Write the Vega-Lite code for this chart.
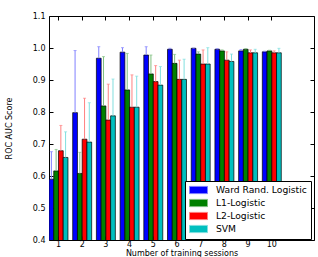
{
  "$schema": "https://vega.github.io/schema/vega-lite/v6.json",
  "width": 265,
  "height": 224,
  "autosize": "none",
  "padding": {"left": 49, "top": 16, "right": 4, "bottom": 17},
  "background": "white",
  "config": {
    "font": "DejaVu Sans",
    "view": {"stroke": "black", "strokeWidth": 1},
    "axis": {"domainColor": "black", "tickColor": "black", "labelColor": "black", "titleColor": "black", "grid": false, "labelFontSize": 8, "titleFontSize": 8, "titleFontWeight": "normal"}
  },
  "data": {"values": [
    {"session": 1, "method": "Ward Rand. Logistic", "score": 0.590, "upper": 0.676},
    {"session": 1, "method": "L1-Logistic", "score": 0.616, "upper": 0.683},
    {"session": 1, "method": "L2-Logistic", "score": 0.679, "upper": 0.758},
    {"session": 1, "method": "SVM", "score": 0.658, "upper": 0.738},
    {"session": 2, "method": "Ward Rand. Logistic", "score": 0.798, "upper": 0.992},
    {"session": 2, "method": "L1-Logistic", "score": 0.608, "upper": 0.674},
    {"session": 2, "method": "L2-Logistic", "score": 0.715, "upper": 0.843},
    {"session": 2, "method": "SVM", "score": 0.706, "upper": 0.829},
    {"session": 3, "method": "Ward Rand. Logistic", "score": 0.968, "upper": 1.004},
    {"session": 3, "method": "L1-Logistic", "score": 0.819, "upper": 0.973},
    {"session": 3, "method": "L2-Logistic", "score": 0.775, "upper": 0.887},
    {"session": 3, "method": "SVM", "score": 0.788, "upper": 0.903},
    {"session": 4, "method": "Ward Rand. Logistic", "score": 0.987, "upper": 1.001},
    {"session": 4, "method": "L1-Logistic", "score": 0.869, "upper": 0.983},
    {"session": 4, "method": "L2-Logistic", "score": 0.815, "upper": 0.916},
    {"session": 4, "method": "SVM", "score": 0.815, "upper": 0.912},
    {"session": 5, "method": "Ward Rand. Logistic", "score": 0.978, "upper": 1.004},
    {"session": 5, "method": "L1-Logistic", "score": 0.919, "upper": 0.978},
    {"session": 5, "method": "L2-Logistic", "score": 0.895, "upper": 0.945},
    {"session": 5, "method": "SVM", "score": 0.884, "upper": 0.942},
    {"session": 6, "method": "Ward Rand. Logistic", "score": 0.996, "upper": 0.999},
    {"session": 6, "method": "L1-Logistic", "score": 0.952, "upper": 0.980},
    {"session": 6, "method": "L2-Logistic", "score": 0.902, "upper": 0.962},
    {"session": 6, "method": "SVM", "score": 0.902, "upper": 0.965},
    {"session": 7, "method": "Ward Rand. Logistic", "score": 0.999, "upper": 1.000},
    {"session": 7, "method": "L1-Logistic", "score": 0.981, "upper": 0.988},
    {"session": 7, "method": "L2-Logistic", "score": 0.950, "upper": 0.994},
    {"session": 7, "method": "SVM", "score": 0.950, "upper": 1.001},
    {"session": 8, "method": "Ward Rand. Logistic", "score": 0.996, "upper": 0.998},
    {"session": 8, "method": "L1-Logistic", "score": 0.991, "upper": 0.994},
    {"session": 8, "method": "L2-Logistic", "score": 0.962, "upper": 0.988},
    {"session": 8, "method": "SVM", "score": 0.958, "upper": 0.981},
    {"session": 9, "method": "Ward Rand. Logistic", "score": 0.991, "upper": 0.995},
    {"session": 9, "method": "L1-Logistic", "score": 0.996, "upper": 0.998},
    {"session": 9, "method": "L2-Logistic", "score": 0.985, "upper": 0.994},
    {"session": 9, "method": "SVM", "score": 0.985, "upper": 0.996},
    {"session": 10, "method": "Ward Rand. Logistic", "score": 0.988, "upper": 0.990},
    {"session": 10, "method": "L1-Logistic", "score": 0.991, "upper": 0.993},
    {"session": 10, "method": "L2-Logistic", "score": 0.985, "upper": 0.991},
    {"session": 10, "method": "SVM", "score": 0.985, "upper": 0.999}
  ]},
  "encoding": {
    "x": {"field": "session", "type": "ordinal", "scale": {"paddingInner": 0.2, "paddingOuter": 0.69, "align": 0}},
    "xOffset": {"field": "method", "type": "nominal", "sort": ["Ward Rand. Logistic", "L1-Logistic", "L2-Logistic", "SVM"], "scale": {"paddingInner": 0, "paddingOuter": 0}}
  },
  "layer": [
    {
      "mark": {"type": "bar", "stroke": "black", "strokeWidth": 0.7, "clip": true, "opacity": 1},
      "encoding": {
        "x": {"field": "session", "type": "ordinal", "axis": {"title": "Number of training sessions", "labelAngle": 0, "domain": false, "tickSize": -4, "labelPadding": 4, "titlePadding": 1.5}},
        "y": {"field": "score", "type": "quantitative", "scale": {"domain": [0.4, 1.1], "zero": false, "nice": false},
          "axis": {"title": "ROC AUC Score", "values": [0.4, 0.5, 0.6, 0.7, 0.8, 0.9, 1.0, 1.1], "format": ".1f", "domain": false, "tickSize": -4, "labelPadding": 8, "titlePadding": 19}},
        "color": {"field": "method", "type": "nominal", "sort": ["Ward Rand. Logistic", "L1-Logistic", "L2-Logistic", "SVM"],
          "scale": {"domain": ["Ward Rand. Logistic", "L1-Logistic", "L2-Logistic", "SVM"], "range": ["#0000ff", "#008000", "#ff0000", "#00bfbf"]},
          "legend": {"title": null, "orient": "none", "legendX": 136, "legendY": 165, "padding": 4, "strokeColor": "black", "fillColor": "white", "cornerRadius": 0,
            "symbolType": "M-1,-0.8H3V0.8H-1Z", "symbolSize": 81, "symbolStrokeColor": "black", "symbolStrokeWidth": 1, "symbolOpacity": 1,
            "labelFontSize": 9.2, "labelOffset": 17, "rowPadding": 1, "labelLimit": 200}}
      }
    },
    {
      "mark": {"type": "rule", "strokeWidth": 1},
      "encoding": {
        "x": {"field": "session", "type": "ordinal", "axis": {"orient": "top", "title": null, "labels": false, "domain": false, "tickSize": -4}},
        "y": {"field": "score", "type": "quantitative", "axis": {"orient": "right", "title": null, "labels": false, "domain": false, "tickSize": -4, "values": [0.4, 0.5, 0.6, 0.7, 0.8, 0.9, 1.0, 1.1]}},
        "y2": {"field": "upper"},
        "stroke": {"field": "method", "type": "nominal", "legend": null,
          "scale": {"domain": ["Ward Rand. Logistic", "L1-Logistic", "L2-Logistic", "SVM"], "range": ["#8080ff", "#80c080", "#ff8080", "#80dfdf"]}}
      }
    },
    {
      "mark": {"type": "tick", "thickness": 1, "size": 3, "orient": "horizontal"},
      "encoding": {
        "x": {"field": "session", "type": "ordinal", "axis": null},
        "y": {"field": "upper", "type": "quantitative", "axis": null},
        "fill": {"field": "method", "type": "nominal", "legend": null,
          "scale": {"domain": ["Ward Rand. Logistic", "L1-Logistic", "L2-Logistic", "SVM"], "range": ["#8080ff", "#80c080", "#ff8080", "#80dfdf"]}}
      }
    }
  ],
  "resolve": {"axis": {"x": "independent", "y": "independent"}}
}
